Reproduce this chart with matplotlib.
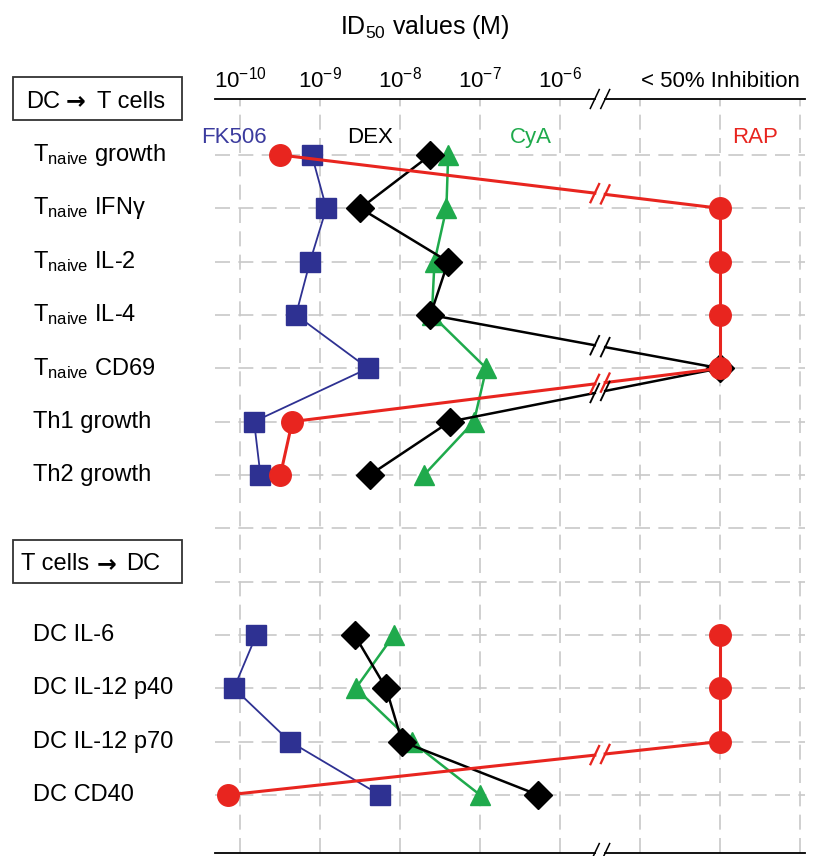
import matplotlib
matplotlib.use('Agg')
import matplotlib.pyplot as plt
from matplotlib.patches import Rectangle
import numpy as np

plt.rcParams['font.family'] = ['Liberation Sans', 'DejaVu Sans']
plt.rcParams['mathtext.fontset'] = 'custom'
plt.rcParams['mathtext.rm'] = 'Liberation Sans'
plt.rcParams['mathtext.it'] = 'Liberation Sans:italic'
plt.rcParams['mathtext.bf'] = 'Liberation Sans:bold'

# rows of the chart (row 7, 8 are the empty slot / section box)
row_names = [r'T$_{\mathregular{naive}}$ growth', r'T$_{\mathregular{naive}}$ IFNγ',
             r'T$_{\mathregular{naive}}$ IL-2', r'T$_{\mathregular{naive}}$ IL-4',
             r'T$_{\mathregular{naive}}$ CD69', 'Th1 growth', 'Th2 growth',
             'DC IL-6', 'DC IL-12 p40', 'DC IL-12 p70', 'DC CD40']
row_pos = [0, 1, 2, 3, 4, 5, 6, 9, 10, 11, 12]

# ID50 values in M, None = "< 50% Inhibition"
fk506 = [7.9e-10, 1.2e-9, 7.5e-10, 5.0e-10, 4.0e-9, 1.5e-10, 1.8e-10,
         1.6e-10, 8.4e-11, 4.2e-10, 5.6e-9]
dex = [2.4e-8, 3.2e-9, 4.0e-8, 2.4e-8, None, 4.2e-8, 4.2e-9,
       2.7e-9, 6.7e-9, 1.06e-8, 5.3e-7]
cya = [4.0e-8, 3.8e-8, 2.7e-8, 2.5e-8, 1.2e-7, 8.4e-8, 2.0e-8,
       8.4e-9, 2.8e-9, 1.4e-8, 1.0e-7]
rap = [3.2e-10, None, None, None, None, 4.5e-10, 3.2e-10,
       None, None, None, 7.1e-11]

decades = [-10, -9, -8, -7, -6]
tick_labels = [r'10$^{\mathregular{-10}}$', r'10$^{\mathregular{-9}}$', r'10$^{\mathregular{-8}}$',
               r'10$^{\mathregular{-7}}$', r'10$^{\mathregular{-6}}$']
INH = -4.0      # position of "< 50% Inhibition"
BRK = -5.5      # axis break

def xpos(v):
    return INH if v is None else np.log10(v)

W, H = 832, 856
fig = plt.figure(figsize=(W/100, H/100), dpi=100)
ax = fig.add_axes([215/W, 3/H, 590/W, 754/H])
xmin, xmax = -10.3125, -2.9375
ymin, ymax = 13.09, -1.05
ax.set_xlim(xmin, xmax)
ax.set_ylim(ymin, ymax)
for s in ax.spines.values():
    s.set_visible(False)
ax.set_yticks([])

# grid
grid_kw = dict(color='#c8c8c8', lw=1.2, dashes=(9, 5), zorder=0)
for g in range(-10, -2):
    ax.plot([g, g], [ymin, ymax], **grid_kw)
for r in range(0, 13):
    ax.plot([xmin, xmax], [r, r], **grid_kw)

# break helpers
dxs, dys, gap = 0.06, 0.19, 0.065

def slash(x, y, color, lw):
    ax.plot([x - dxs, x + dxs], [y + dys, y - dys], color=color, lw=lw,
            clip_on=False, zorder=6, solid_capstyle='butt')

def seg(x1, y1, x2, y2, color, lw, z):
    if min(x1, x2) < BRK < max(x1, x2):
        if x1 > x2:
            x1, y1, x2, y2 = x2, y2, x1, y1
        ya = y1 + (y2 - y1) * (BRK - gap - x1) / (x2 - x1)
        yb = y1 + (y2 - y1) * (BRK + gap - x1) / (x2 - x1)
        ax.plot([x1, BRK - gap], [y1, ya], color=color, lw=lw, zorder=z, clip_on=False)
        ax.plot([BRK + gap, x2], [yb, y2], color=color, lw=lw, zorder=z, clip_on=False)
        slash(BRK - gap, ya, color, max(lw * 0.75, 1.1))
        slash(BRK + gap, yb, color, max(lw * 0.75, 1.1))
    else:
        ax.plot([x1, x2], [y1, y2], color=color, lw=lw, zorder=z, clip_on=False)

# top / bottom axis lines with break
for yy in (ymax, ymin):
    seg(xmin, yy, xmax, yy, 'black', 1.3, 5)

series = [
    (fk506, '#2e3192', 's', 14, 1.3, 2),
    (cya, '#1faa4c', '^', 15, 1.8, 3),
    (dex, 'black', 'D', 14, 1.8, 4),
    (rap, '#e8251f', 'o', 15.5, 2.2, 5),
]
for vals, col, mk, ms, lw, z in series:
    xs = [xpos(v) for v in vals]
    for i in range(len(xs) - 1):
        if row_pos[i + 1] - row_pos[i] == 1:
            seg(xs[i], row_pos[i], xs[i + 1], row_pos[i + 1], col, lw, z)
    ax.plot(xs, row_pos, ls='none', marker=mk, ms=ms, color=col,
            mec=col, zorder=z + 0.5, clip_on=False)

# series names
ax.text(-9.66, -0.32, 'FK506', color='#3b3b9e', fontsize=16, ha='right', va='center')
ax.text(-8.37, -0.32, 'DEX', color='black', fontsize=16, ha='center', va='center')
ax.text(-6.36, -0.32, 'CyA', color='#1faa4c', fontsize=16, ha='center', va='center')
ax.text(-3.56, -0.32, 'RAP', color='#e8251f', fontsize=16, ha='center', va='center')

# x ticks on top
ax.xaxis.tick_top()
ax.set_xticks(decades + [INH])
ax.set_xticklabels(tick_labels + ['< 50% Inhibition'], fontsize=16)
ax.tick_params(axis='x', length=0, pad=5)

# row labels
for name, r in zip(row_names, row_pos):
    ax.text(-0.308, r, name, transform=ax.get_yaxis_transform(), fontsize=17,
            ha='left', va='center')

# section boxes, drawn in pixel positions of the figure
def section(parts, y, box_y0, box_y1):
    fig.add_artist(Rectangle((13/W, 1 - box_y1/H), 169/W, (box_y1 - box_y0)/H,
                             transform=fig.transFigure, fc='white', ec='#333333', lw=1.3))
    for txt, x0, fam, wt in parts:
        fig.text(x0/W, 1 - y/H, txt, fontsize=17, ha='left', va='center_baseline',
                 family=fam, fontweight=wt)

section([('DC', 26, 'Liberation Sans', 'normal'), ('\u2192', 66, 'DejaVu Sans', 'bold'),
         ('T cells', 97, 'Liberation Sans', 'normal')], 99, 77, 120)
section([('T cells', 21, 'Liberation Sans', 'normal'), ('\u2192', 97, 'DejaVu Sans', 'bold'),
         ('DC', 126, 'Liberation Sans', 'normal')], 562, 540, 583)

fig.text(425/W, 1 - 27/H, r'ID$_{\mathregular{50}}$ values (M)', fontsize=18,
         ha='center', va='center')

fig.savefig('out.png', dpi=100)
